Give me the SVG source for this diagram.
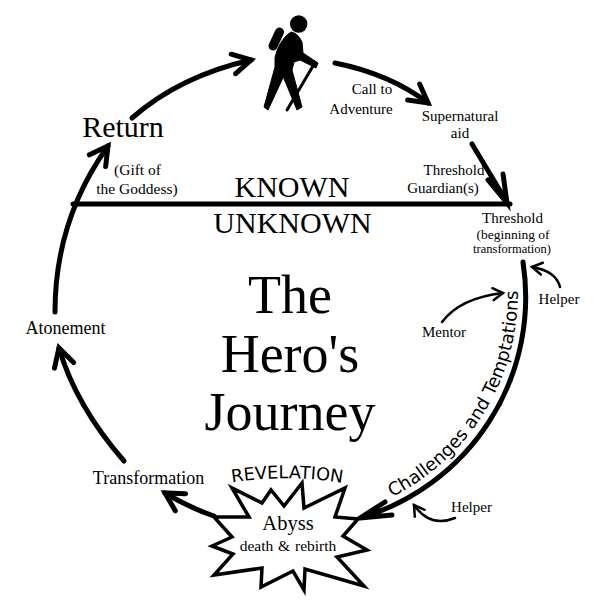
<svg xmlns="http://www.w3.org/2000/svg" xmlns:xlink="http://www.w3.org/1999/xlink" width="593" height="606" viewBox="0 0 593 606">
<style>
text{font-family:"Liberation Serif",serif;fill:#000;text-anchor:middle}
.curve{font-family:"DejaVu Sans",sans-serif;text-anchor:start}
.line{fill:none;stroke:#000;stroke-width:5;stroke-linecap:round}
.big{marker-end:url(#head)}
.small{fill:none;stroke:#000;stroke-width:2.5;stroke-linecap:round;marker-end:url(#headS)}
</style>
<defs>
<marker id="head" markerUnits="userSpaceOnUse" markerWidth="50" markerHeight="50" refX="25" refY="25" orient="auto" overflow="visible"><path d="M7,15 L25,25 L7,35" fill="none" stroke="#000" stroke-width="5" stroke-linecap="round" stroke-linejoin="miter"/></marker>
<marker id="headS" markerUnits="userSpaceOnUse" markerWidth="30" markerHeight="30" refX="15" refY="15" orient="auto" overflow="visible"><path d="M5,9 L15,15 L5,21" fill="none" stroke="#000" stroke-width="2.5" stroke-linecap="round"/></marker>
<path id="challengesPath" d="M392,497 A227.500,227.500 0 0 0 517.500,280"/>
<path id="revelationPath" d="M232,482.500 Q288,473.500 346,483.500"/>
</defs>
<rect width="593" height="606" fill="#fff"/>
<g id="connectors">
<path class="line big" d="M124,461 Q76,406 59,348"/>
<path class="line big" d="M55,312 Q55,220 108,146"/>
<path class="line big" d="M132,118 Q180,76 251,60"/>
<path class="line big" d="M335,63 Q390,74 428,103"/>
<path class="line" d="M472,144 L508,204 M488,180 L507,203 L503,174"/>
<path class="line" d="M73,204 H510"/>
<path class="line" d="M523,262 A230,230 0 0 1 360,518 M385,502 L360,518 L392,515"/>
<path class="line big" d="M214,516 Q190,508 165,493"/>
<path class="small" d="M442,322 Q460,298 503,293"/>
<path class="small" d="M560,287 Q556,271 532,267"/>
<path class="small" d="M455,518 Q430,528 414,505"/>
</g>
<g id="hiker">
<circle cx="298.700" cy="24" r="8.700"/>
<path d="M279.500,32 L273,46" stroke="#000" stroke-width="9" stroke-linecap="round"/>
<path d="M291,32 C297,33 300,38 302,42 L303,53 L318,63 L316,68 L300,60 L294,62 L292,70 L302,107 L297,110 L283.300,77 L268,110 L264,107 L275,67 L275,58 C277,48 282,38 291,32 Z" stroke="#000" stroke-width="1" stroke-linejoin="round"/>
<path d="M313,66 L287,110" stroke="#000" stroke-width="3" stroke-linecap="round"/>
</g>
<g id="abyss">
<polygon points="214,517 249,517 232,488 262,503 271,490 284,506 302,483 304,508 345,488 335,517 358,519 343,536 367,550 337,557 364,586 305,569 304,590 293,571 261,587 262,568 214,575 233,554 212,546 232,537" fill="#fff" stroke="#000" stroke-width="3.500"/>
<text x="288" y="530" font-size="20.500">Abyss</text>
<text x="288" y="551" font-size="15.500" word-spacing="1">death &amp; rebirth</text>
</g>
<g id="revelation"><text class="curve" font-size="17.700"><textPath xlink:href="#revelationPath" href="#revelationPath">REVELATION</textPath></text></g>
<g id="challenges"><text class="curve" font-size="18"><textPath xlink:href="#challengesPath" href="#challengesPath">Challenges and Temptations</textPath></text></g>
<g id="title">
<text x="290" y="313" font-size="54">The</text>
<text x="290" y="372" font-size="54">Hero's</text>
<text x="290" y="430" font-size="54">Journey</text>
</g>
<g id="known"><text x="292" y="197" font-size="30">KNOWN</text></g>
<g id="unknown"><text x="292.500" y="233" font-size="30">UNKNOWN</text></g>
<g id="return"><text x="123" y="137" font-size="30">Return</text></g>
<g id="gift"><text x="137.500" y="175" font-size="15.500">(Gift of</text><text x="137" y="194" font-size="15.500">the Goddess)</text></g>
<g id="atonement"><text x="65.500" y="334" font-size="18">Atonement</text></g>
<g id="transformation"><text x="148.500" y="484" font-size="18">Transformation</text></g>
<g id="call"><text x="372" y="94" font-size="15">Call to</text><text x="361" y="114" font-size="15">Adventure</text></g>
<g id="supernatural"><text x="460" y="121" font-size="15">Supernatural</text><text x="460" y="138" font-size="15">aid</text></g>
<g id="guardian"><text x="454" y="175" font-size="15">Threshold</text><text x="443" y="193" font-size="15">Guardian(s)</text></g>
<g id="threshold"><text x="512.500" y="223" font-size="15">Threshold</text><text x="513" y="239" font-size="13.500">(beginning of</text><text x="512" y="253" font-size="12.500">transformation)</text></g>
<g id="helper1"><text x="559" y="304" font-size="15">Helper</text></g>
<g id="mentor"><text x="444" y="337" font-size="15">Mentor</text></g>
<g id="helper2"><text x="471.500" y="512" font-size="15">Helper</text></g>
</svg>
